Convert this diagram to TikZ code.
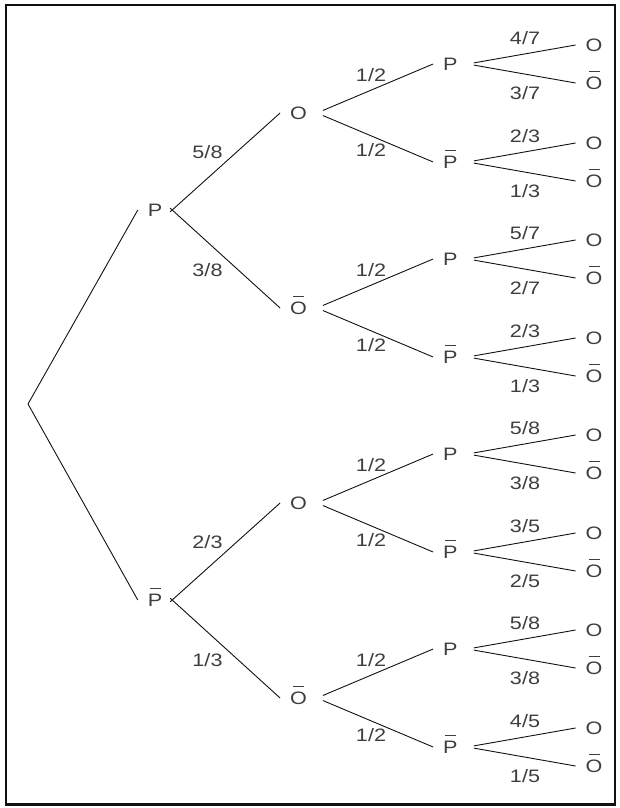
\documentclass[tikz,border=0pt]{standalone}
\usepackage{fontspec}
\usepackage{tikz}
\usepackage{xcolor}
\newfontfamily\treefont[FakeStretch=1.2]{Liberation Sans}
\definecolor{ink}{HTML}{111111}
\definecolor{inkgray}{HTML}{3E3E3E}
\newsavebox\barbox
\newcommand{\nbar}[1]{\sbox\barbox{#1}\makebox[0pt][l]{\smash{\makebox[\wd\barbox]{\rule[\dimexpr\ht\barbox+4.5pt\relax]{11pt}{1.4pt}}}}\usebox\barbox}
\tikzset{
  state/.style={text=inkgray,font=\treefont\fontsize{18}{20}\selectfont,
                inner xsep=10pt,inner ysep=2pt,outer sep=0pt},
  prob/.style={text=inkgray,font=\treefont\fontsize{18}{20}\selectfont,inner sep=0pt},
  branch/.style={draw=ink,line width=0.9pt},
  firstout/.style={branch,shorten <=-2.7pt},
  nextout/.style={branch,shorten <=6.5pt},
  frame/.style={draw=ink,line width=2.5pt}
}
\begin{document}
\begin{tikzpicture}[x=1pt,y=-1pt]
  \useasboundingbox (0,0) rectangle (619,808);
  \draw[frame] (5.8,4.8) rectangle (614.8,804.5);

  \coordinate (root) at (28,404);
  % first draw
  \node[state] (p) at (155,210) {P};
  \node[state] (np) at (155,600) {\nbar{P}};
  % second draw
  \node[state] (po) at (298.5,113) {O};
  \node[state] (pno) at (298.5,308) {\nbar{O}};
  \node[state] (npo) at (298.5,503) {O};
  \node[state] (npno) at (298.5,698) {\nbar{O}};
  % third draw
  \node[state] (pop) at (450.3,64) {P};
  \node[state] (ponp) at (450.3,162) {\nbar{P}};
  \node[state] (pnop) at (450.3,259) {P};
  \node[state] (pnonp) at (450.3,357) {\nbar{P}};
  \node[state] (npop) at (450.3,454) {P};
  \node[state] (nponp) at (450.3,552) {\nbar{P}};
  \node[state] (npnop) at (450.3,649) {P};
  \node[state] (npnonp) at (450.3,747) {\nbar{P}};
  % fourth draw
  \node[state] (popo) at (594,45) {O};
  \node[state] (popno) at (594,83) {\nbar{O}};
  \node[state] (ponpo) at (594,143) {O};
  \node[state] (ponpno) at (594,181) {\nbar{O}};
  \node[state] (pnopo) at (594,240) {O};
  \node[state] (pnopno) at (594,278) {\nbar{O}};
  \node[state] (pnonpo) at (594,338) {O};
  \node[state] (pnonpno) at (594,376) {\nbar{O}};
  \node[state] (npopo) at (594,435) {O};
  \node[state] (npopno) at (594,473) {\nbar{O}};
  \node[state] (nponpo) at (594,533) {O};
  \node[state] (nponpno) at (594,571) {\nbar{O}};
  \node[state] (npnopo) at (594,630) {O};
  \node[state] (npnopno) at (594,668) {\nbar{O}};
  \node[state] (npnonpo) at (594,728) {O};
  \node[state] (npnonpno) at (594,766) {\nbar{O}};

  \draw[branch] (root) -- (p.west);
  \draw[branch] (root) -- (np.west);
  \draw[firstout] (p.east) -- (po.west);
  \draw[firstout] (p.east) -- (pno.west);
  \draw[firstout] (np.east) -- (npo.west);
  \draw[firstout] (np.east) -- (npno.west);
  \draw[nextout] (po.east) -- (pop.west);
  \draw[nextout] (po.east) -- (ponp.west);
  \draw[nextout] (pno.east) -- (pnop.west);
  \draw[nextout] (pno.east) -- (pnonp.west);
  \draw[nextout] (npo.east) -- (npop.west);
  \draw[nextout] (npo.east) -- (nponp.west);
  \draw[nextout] (npno.east) -- (npnop.west);
  \draw[nextout] (npno.east) -- (npnonp.west);
  \draw[nextout] (pop.east) -- (popo.west);
  \draw[nextout] (pop.east) -- (popno.west);
  \draw[nextout] (ponp.east) -- (ponpo.west);
  \draw[nextout] (ponp.east) -- (ponpno.west);
  \draw[nextout] (pnop.east) -- (pnopo.west);
  \draw[nextout] (pnop.east) -- (pnopno.west);
  \draw[nextout] (pnonp.east) -- (pnonpo.west);
  \draw[nextout] (pnonp.east) -- (pnonpno.west);
  \draw[nextout] (npop.east) -- (npopo.west);
  \draw[nextout] (npop.east) -- (npopno.west);
  \draw[nextout] (nponp.east) -- (nponpo.west);
  \draw[nextout] (nponp.east) -- (nponpno.west);
  \draw[nextout] (npnop.east) -- (npnopo.west);
  \draw[nextout] (npnop.east) -- (npnopno.west);
  \draw[nextout] (npnonp.east) -- (npnonpo.west);
  \draw[nextout] (npnonp.east) -- (npnonpno.west);

  % probabilities
  \node[prob] (w-po) at (207.5,152.5) {5/8};
  \node[prob] (w-pno) at (207.5,270) {3/8};
  \node[prob] (w-npo) at (207.5,542.5) {2/3};
  \node[prob] (w-npno) at (207.5,660) {1/3};
  \node[prob] (w-pop) at (371,75) {1/2};
  \node[prob] (w-ponp) at (371,150.5) {1/2};
  \node[prob] (w-pnop) at (371,270) {1/2};
  \node[prob] (w-pnonp) at (371,345.5) {1/2};
  \node[prob] (w-npop) at (371,465) {1/2};
  \node[prob] (w-nponp) at (371,540.5) {1/2};
  \node[prob] (w-npnop) at (371,660) {1/2};
  \node[prob] (w-npnonp) at (371,735.5) {1/2};
  \node[prob] (w-popo) at (525,38.5) {4/7};
  \node[prob] (w-popno) at (525,93) {3/7};
  \node[prob] (w-ponpo) at (525,136.5) {2/3};
  \node[prob] (w-ponpno) at (525,191) {1/3};
  \node[prob] (w-pnopo) at (525,233.5) {5/7};
  \node[prob] (w-pnopno) at (525,288) {2/7};
  \node[prob] (w-pnonpo) at (525,331.5) {2/3};
  \node[prob] (w-pnonpno) at (525,386) {1/3};
  \node[prob] (w-npopo) at (525,428.5) {5/8};
  \node[prob] (w-npopno) at (525,483) {3/8};
  \node[prob] (w-nponpo) at (525,526.5) {3/5};
  \node[prob] (w-nponpno) at (525,581) {2/5};
  \node[prob] (w-npnopo) at (525,623.5) {5/8};
  \node[prob] (w-npnopno) at (525,678) {3/8};
  \node[prob] (w-npnonpo) at (525,721.5) {4/5};
  \node[prob] (w-npnonpno) at (525,776) {1/5};
\end{tikzpicture}
\end{document}
